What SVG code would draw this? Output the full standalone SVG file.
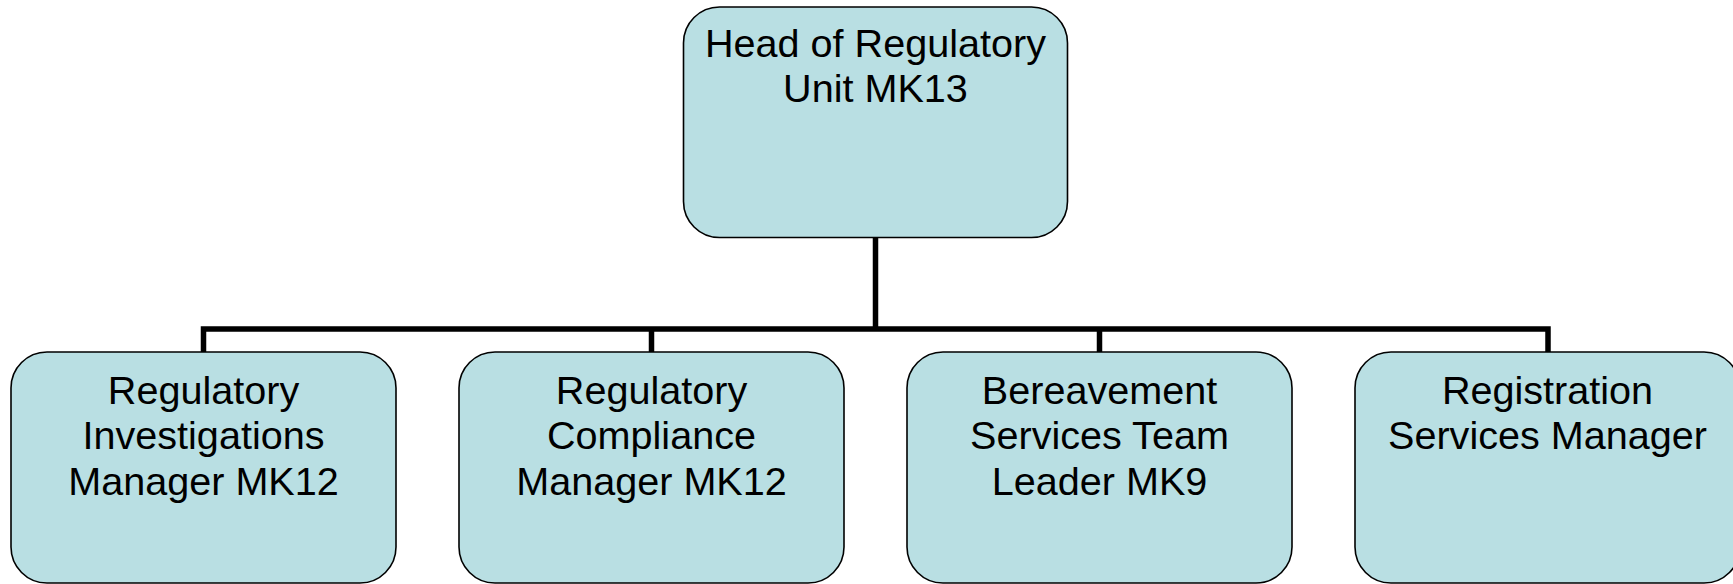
<svg xmlns="http://www.w3.org/2000/svg" width="1733" height="584" viewBox="0 0 1733 584">
  <style>
    .box { fill: #B9DFE3; stroke: #000; stroke-width: 1.6; }
    .label { font-family: "Liberation Sans", Arial, sans-serif; font-size: 39.6px; fill: #000; text-anchor: middle; }
    .link { fill: none; stroke: #000; stroke-width: 5.5; stroke-linecap: butt; stroke-linejoin: miter; }
  </style>
  <rect width="1733" height="584" fill="#fff"/>

  <g id="connectors">
    <path class="link" d="M875.5 237 V329"/>
    <path class="link" d="M203.5 352 V329 H1548 V352"/>
    <path class="link" d="M651.5 329 V352"/>
    <path class="link" d="M1099.5 329 V352"/>
  </g>

  <g id="head">
    <rect class="box" x="683.5" y="7" width="384" height="230.5" rx="36" ry="36"/>
    <text class="label" x="875.5" y="56.5">Head of Regulatory</text>
    <text class="label" x="875.5" y="101.5">Unit MK13</text>
  </g>

  <g id="investigations">
    <rect class="box" x="11" y="352" width="385" height="231" rx="36" ry="36"/>
    <text class="label" x="203.5" y="403.5">Regulatory</text>
    <text class="label" x="203.5" y="449">Investigations</text>
    <text class="label" x="203.5" y="494.5">Manager MK12</text>
  </g>

  <g id="compliance">
    <rect class="box" x="459" y="352" width="385" height="231" rx="36" ry="36"/>
    <text class="label" x="651.5" y="403.5">Regulatory</text>
    <text class="label" x="651.5" y="449">Compliance</text>
    <text class="label" x="651.5" y="494.5">Manager MK12</text>
  </g>

  <g id="bereavement">
    <rect class="box" x="907" y="352" width="385" height="231" rx="36" ry="36"/>
    <text class="label" x="1099.5" y="403.5">Bereavement</text>
    <text class="label" x="1099.5" y="449">Services Team</text>
    <text class="label" x="1099.5" y="494.5">Leader MK9</text>
  </g>

  <g id="registration">
    <rect class="box" x="1355" y="352" width="385" height="231" rx="36" ry="36"/>
    <text class="label" x="1547.5" y="403.5">Registration</text>
    <text class="label" x="1547.5" y="449">Services Manager</text>
  </g>
</svg>
